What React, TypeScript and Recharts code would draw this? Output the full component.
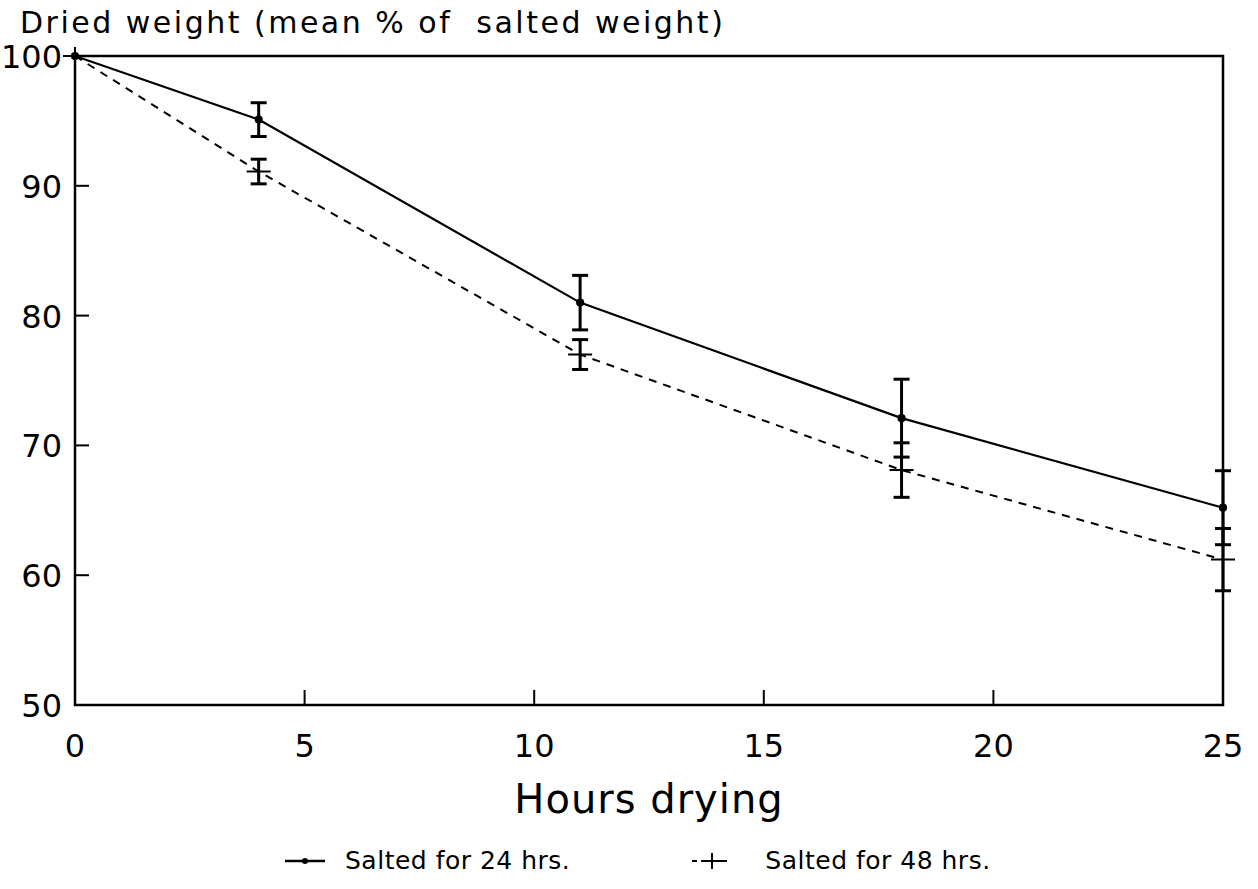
import { ComposedChart, Line, XAxis, YAxis, ErrorBar, ReferenceArea } from 'recharts';

const hours = [0, 4, 11, 18, 25];
const salted24 = [100, 95.1, 81.0, 72.1, 65.2];
const salted24Err = [0, 1.3, 2.1, 3.0, 2.85];
const salted48 = [100, 91.1, 77.0, 68.1, 61.2];
const salted48Err = [0, 0.95, 1.15, 2.1, 2.4];
const xTicks = [0, 5, 10, 15, 20, 25];
const yTicks = [50, 60, 70, 80, 90, 100];

const FONT = '"DejaVu Sans", sans-serif';

const data = hours.map((h, i) => ({
  hours: h,
  s24: salted24[i],
  e24: salted24Err[i],
  s48: salted48[i],
  e48: salted48Err[i],
}));

function XTick({ x, y, payload }: any) {
  const v = payload.value;
  const inner = v !== 0 && v !== 25;
  return (
    <g>
      {inner && <line x1={x} y1={y} x2={x} y2={y - 15} stroke="#000" strokeWidth={2} />}
      <text x={x} y={y + 52} textAnchor="middle" fontSize={32} fontFamily={FONT} fill="#000">
        {v}
      </text>
    </g>
  );
}

function YTick({ x, y, payload }: any) {
  const v = payload.value;
  const inner = v !== 50 && v !== 100;
  return (
    <g>
      {inner && <line x1={x} y1={y} x2={x + 14} y2={y} stroke="#000" strokeWidth={2} />}
      {v === 100 && <line x1={x - 10} y1={y} x2={x} y2={y} stroke="#000" strokeWidth={2} />}
      <text x={x - 13} y={y + 12} textAnchor="end" fontSize={32} fontFamily={FONT} fill="#000">
        {v}
      </text>
    </g>
  );
}

function PlusDot({ cx, cy, index }: any) {
  if (cx == null || cy == null) return <g key={`p${index}`} />;
  return (
    <path
      key={`p${index}`}
      d={`M${cx - 12},${cy}H${cx + 12}M${cx},${cy - 9}V${cy + 9}`}
      stroke="#000"
      strokeWidth={2}
      strokeDasharray="none"
      fill="none"
    />
  );
}

function Legend() {
  const text = { fontFamily: FONT, fontSize: 25, color: '#000', whiteSpace: 'pre' as const };
  return (
    <div
      style={{
        position: 'absolute',
        left: 0,
        top: 846,
        width: 1258,
        display: 'flex',
        alignItems: 'center',
      }}
    >
      <svg width={44} height={20} style={{ marginLeft: 283 }}>
        <line x1={2} y1={10} x2={42} y2={10} stroke="#000" strokeWidth={2.5} />
        <circle cx={22} cy={10} r={3} fill="#000" />
      </svg>
      <span style={{ ...text, marginLeft: 18, letterSpacing: 0.5 }}>Salted for 24 hrs.</span>
      <svg width={44} height={24} style={{ marginLeft: 120 }}>
        <line x1={2} y1={12} x2={42} y2={12} stroke="#000" strokeWidth={2} strokeDasharray="5 5" />
        <path d="M11,12H33M22,4V20" stroke="#000" strokeWidth={2} />
      </svg>
      <span style={{ ...text, marginLeft: 31, letterSpacing: 0.5 }}>Salted for 48 hrs.</span>
    </div>
  );
}

export default function App() {
  return (
    <div style={{ position: 'absolute', left: 0, top: 0, width: 1258, height: 889, background: '#fff' }}>
      <ComposedChart
        width={1258}
        height={889}
        data={data}
        margin={{ top: 56, right: 35, bottom: 0, left: 0 }}
      >
        <ReferenceArea
          x1={0}
          x2={25}
          y1={50}
          y2={100}
          fill="none"
          stroke="#000"
          strokeWidth={2.5}
          ifOverflow="visible"
        />
        <XAxis
          dataKey="hours"
          type="number"
          domain={[0, 25]}
          ticks={xTicks}
          interval={0}
          height={184}
          axisLine={false}
          tickLine={false}
          tickSize={0}
          tickMargin={0}
          tick={<XTick />}
          label={{
            value: 'Hours drying',
            position: 'insideTop',
            offset: 80,
            fontSize: 40,
            fill: '#000',
            fontFamily: FONT,
            letterSpacing: 1,
          }}
        />
        <YAxis
          type="number"
          domain={[50, 100]}
          ticks={yTicks}
          interval={0}
          width={75}
          axisLine={false}
          tickLine={false}
          tickSize={0}
          tickMargin={0}
          tick={<YTick />}
          label={{
            content: () => (
              <text
                x={20}
                y={33}
                fontSize={30}
                fontFamily={FONT}
                fill="#000"
                letterSpacing={2.5}
                style={{ whiteSpace: 'pre' }}
              >
                {'Dried weight (mean % of  salted weight)'}
              </text>
            ),
          }}
        />
        <Line
          dataKey="s24"
          type="linear"
          stroke="#000"
          strokeWidth={2.2}
          dot={{ r: 3, fill: '#000', stroke: '#000' }}
          activeDot={false}
          isAnimationActive={false}
        >
          <ErrorBar dataKey="e24" direction="y" width={8} strokeWidth={3} stroke="#000" />
        </Line>
        <Line
          dataKey="s48"
          type="linear"
          stroke="#000"
          strokeWidth={2}
          strokeDasharray="8 7"
          dot={<PlusDot />}
          activeDot={false}
          isAnimationActive={false}
        >
          <ErrorBar dataKey="e48" direction="y" width={8} strokeWidth={3} stroke="#000" />
        </Line>
      </ComposedChart>
      <Legend />
    </div>
  );
}
